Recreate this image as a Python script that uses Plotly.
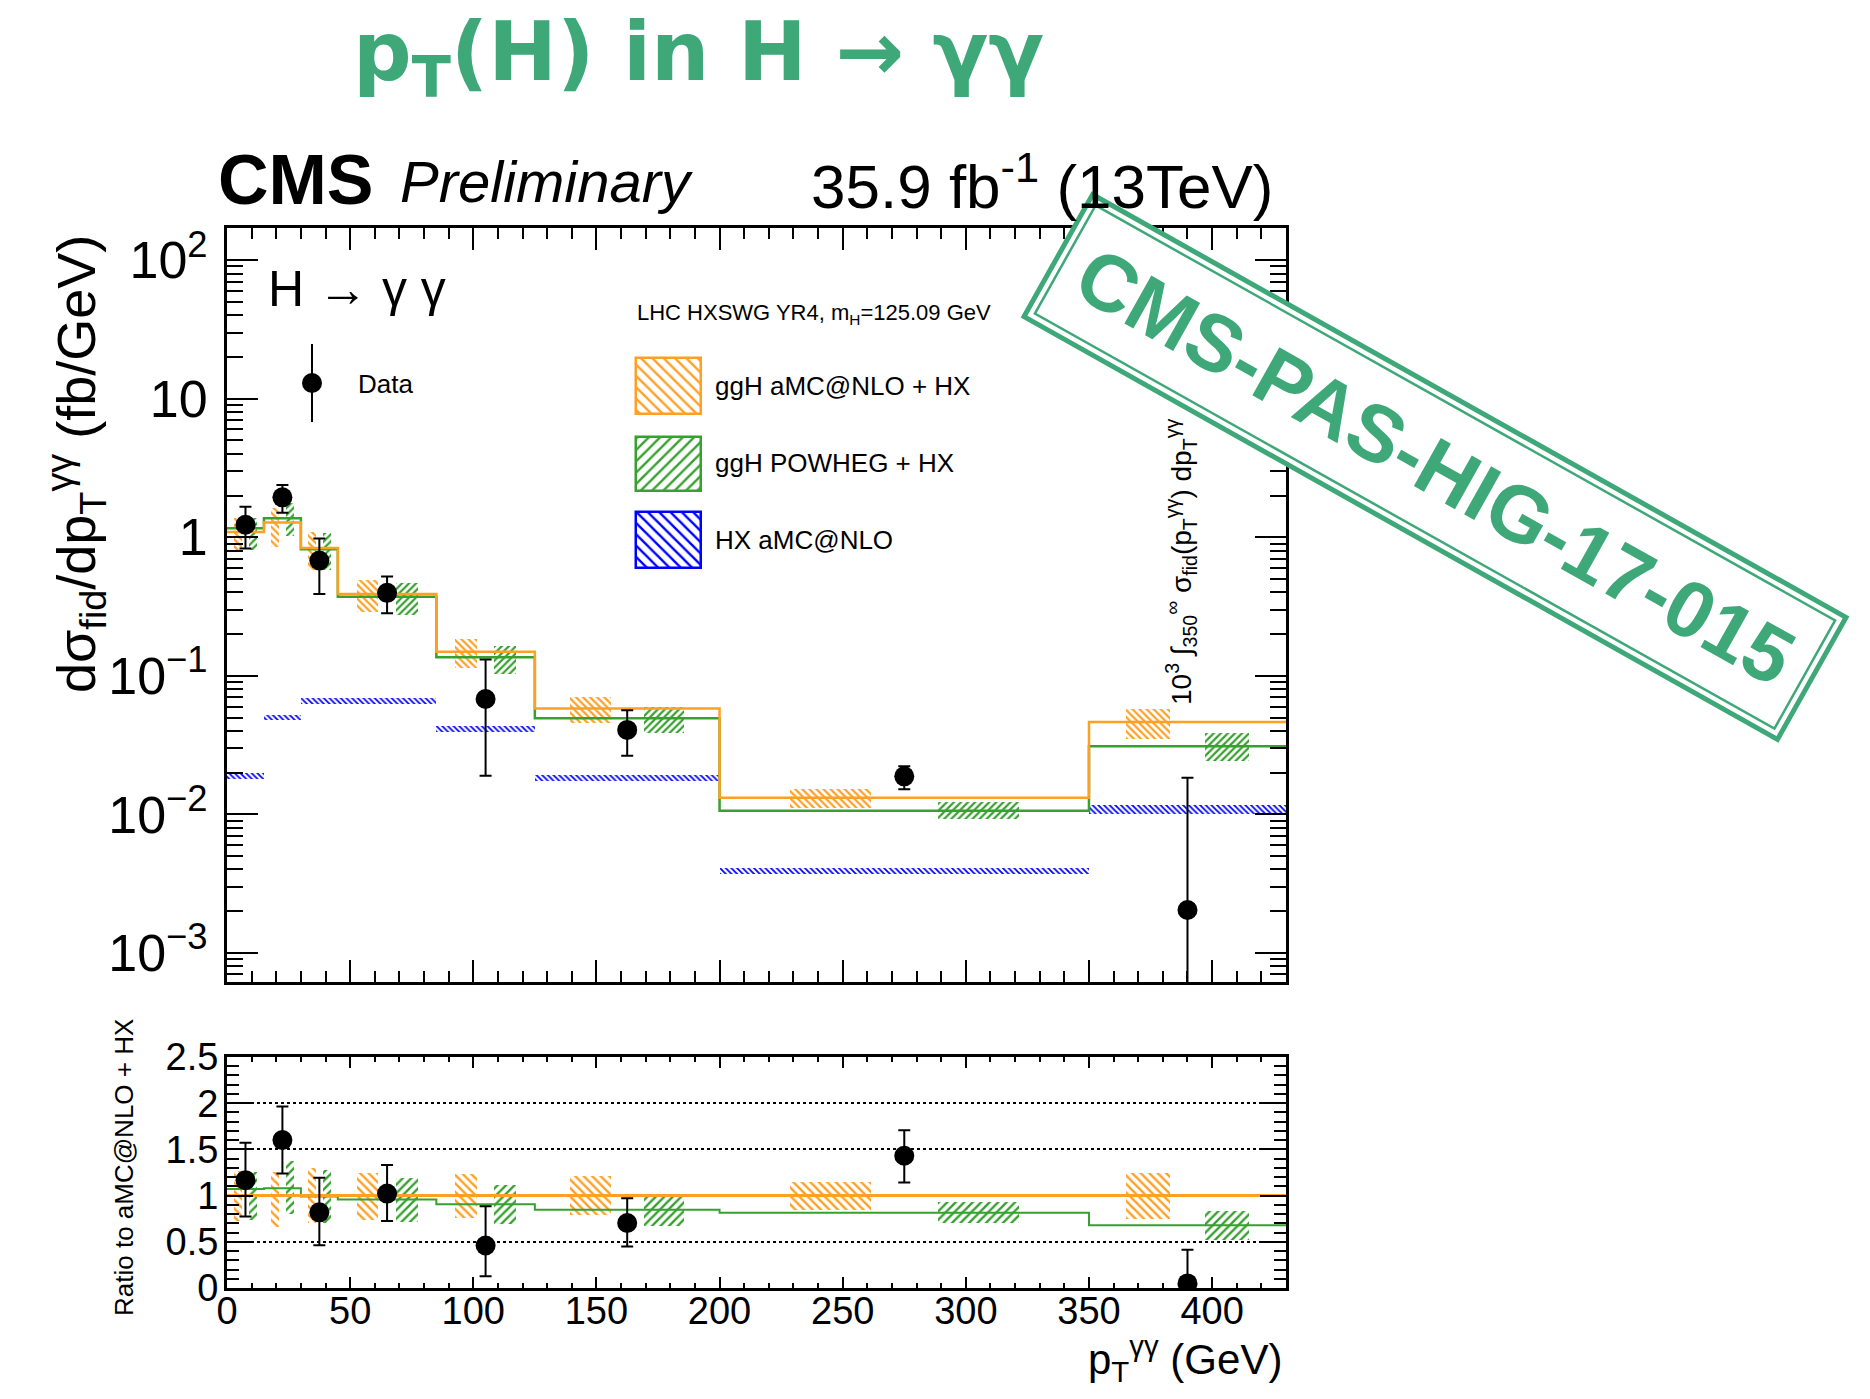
import math
import plotly.graph_objects as go

W, H = 1870, 1399

# ---------------- data ----------------
bin_edges = [0, 15, 30, 45, 85, 125, 200, 350, 430]
bin_centers = [7.5, 22.5, 37.5, 65, 105, 162.5, 275, 390]

data_xs = [1.23, 1.94, 0.68, 0.397, 0.068, 0.0407, 0.0188, 0.00204]
data_up = [1.66, 2.38, 0.98, 0.52, 0.131, 0.0565, 0.0222, 0.0184]
data_dn = [0.83, 1.50, 0.39, 0.283, 0.0190, 0.0265, 0.0152, 0.0001]

amc_xs = [1.09, 1.28, 0.835, 0.39, 0.149, 0.058, 0.01315, 0.0465]
powheg_xs = [1.16, 1.37, 0.82, 0.372, 0.136, 0.0493, 0.0106, 0.031]

hx_xs = [0.0189, 0.050, 0.0653, 0.0653, 0.0413, 0.0183, 0.00393, 0.0108]
hx_lo = [0.0180, 0.0476, 0.0622, 0.0622, 0.0393, 0.0174, 0.00374, 0.0101]
hx_hi = [0.0198, 0.0525, 0.0686, 0.0686, 0.0434, 0.0192, 0.00413, 0.0116]

ratio_data = [1.167, 1.601, 0.819, 1.022, 0.460, 0.703, 1.431, 0.05]
ratio_up = [1.572, 1.964, 1.192, 1.330, 0.884, 0.971, 1.707, 0.413]
ratio_dn = [0.775, 1.239, 0.464, 0.725, 0.127, 0.449, 1.141, 0.0]
ratio_amc = [1.0, 1.0, 1.0, 1.0, 1.0, 1.0, 1.0, 1.0]
ratio_powheg = [1.072, 1.08, 0.99, 0.957, 0.906, 0.848, 0.815, 0.678]

amc_band_lo = [0.72, 0.66, 0.70, 0.74, 0.76, 0.79, 0.84, 0.75]
amc_band_hi = [1.27, 1.26, 1.30, 1.25, 1.23, 1.21, 1.15, 1.24]
pow_band_lo = [0.74, 0.80, 0.70, 0.71, 0.69, 0.67, 0.70, 0.52]
pow_band_hi = [1.26, 1.37, 1.28, 1.19, 1.11, 1.02, 0.93, 0.83]

main_tickvals = [1e-3, 1e-2, 1e-1, 1, 10, 100]
main_ticktext = ["10<sup>\u22123</sup>", "10<sup>\u22122</sup>", "10<sup>\u22121</sup>", "1", "10", "10<sup>2</sup>"]
ratio_tickvals = [0, 0.5, 1, 1.5, 2, 2.5]
ratio_ticktext = ["0", "0.5", "1", "1.5", "2", "2.5"]

# ---------------- style ----------------
ORANGE = "#FFA024"
GREEN = "#36A12E"
BLUE = "#0000FF"
STAMP = "#3EA879"
FONT = "Liberation Sans, Arial, Helvetica, sans-serif"


def fx(p):
    return p / W


def fy(p):
    return 1 - p / H


lo_edges = bin_edges[:-1]
widths = [b - a for a, b in zip(bin_edges[:-1], bin_edges[1:])]
amc_box_x = [a + 0.3 * w for a, w in zip(lo_edges, widths)]
pow_box_x = [a + 0.7 * w for a, w in zip(lo_edges, widths)]
box_w = [0.22 * w for w in widths]


def steps(vals):
    return list(vals) + [vals[-1]]


def hatch(color, shape, size=5, sol=0.4):
    return dict(color=color, line=dict(width=0),
                pattern=dict(shape=shape, fillmode="replace", size=size, solidity=sol))


fig = go.Figure()

# ---------- main panel ----------
fig.add_trace(go.Bar(x=bin_centers, width=widths, base=hx_lo,
                     y=[h - l for h, l in zip(hx_hi, hx_lo)],
                     marker=hatch(BLUE, "\\", 4, 0.45), xaxis="x", yaxis="y", showlegend=False))
fig.add_trace(go.Bar(x=amc_box_x, width=box_w,
                     base=[a * l for a, l in zip(amc_xs, amc_band_lo)],
                     y=[a * (h - l) for a, h, l in zip(amc_xs, amc_band_hi, amc_band_lo)],
                     marker=hatch(ORANGE, "\\", 5, 0.45), xaxis="x", yaxis="y", showlegend=False))
fig.add_trace(go.Bar(x=pow_box_x, width=box_w,
                     base=[a * l for a, l in zip(amc_xs, pow_band_lo)],
                     y=[a * (h - l) for a, h, l in zip(amc_xs, pow_band_hi, pow_band_lo)],
                     marker=hatch(GREEN, "/", 5, 0.45), xaxis="x", yaxis="y", showlegend=False))
fig.add_trace(go.Scatter(x=bin_edges, y=steps(powheg_xs), mode="lines", line_shape="hv",
                         line=dict(color=GREEN, width=2.5), xaxis="x", yaxis="y", showlegend=False))
fig.add_trace(go.Scatter(x=bin_edges, y=steps(amc_xs), mode="lines", line_shape="hv",
                         line=dict(color=ORANGE, width=2.5), xaxis="x", yaxis="y", showlegend=False))
fig.add_trace(go.Scatter(x=bin_centers, y=data_xs, mode="markers",
                         marker=dict(color="black", size=20),
                         error_y=dict(type="data", symmetric=False,
                                      array=[u - v for u, v in zip(data_up, data_xs)],
                                      arrayminus=[v - d for v, d in zip(data_xs, data_dn)],
                                      color="black", thickness=2, width=6),
                         xaxis="x", yaxis="y", showlegend=False))

# ---------- ratio panel ----------
fig.add_trace(go.Bar(x=amc_box_x, width=box_w, base=amc_band_lo,
                     y=[h - l for h, l in zip(amc_band_hi, amc_band_lo)],
                     marker=hatch(ORANGE, "\\", 6, 0.4), xaxis="x2", yaxis="y2", showlegend=False))
fig.add_trace(go.Bar(x=pow_box_x, width=box_w, base=pow_band_lo,
                     y=[h - l for h, l in zip(pow_band_hi, pow_band_lo)],
                     marker=hatch(GREEN, "/", 6, 0.4), xaxis="x2", yaxis="y2", showlegend=False))
fig.add_trace(go.Scatter(x=bin_edges, y=steps(ratio_powheg), mode="lines", line_shape="hv",
                         line=dict(color=GREEN, width=2), xaxis="x2", yaxis="y2", showlegend=False))
fig.add_trace(go.Scatter(x=bin_edges, y=steps(ratio_amc), mode="lines", line_shape="hv",
                         line=dict(color=ORANGE, width=3), xaxis="x2", yaxis="y2", showlegend=False))
fig.add_trace(go.Scatter(x=bin_centers, y=ratio_data, mode="markers",
                         marker=dict(color="black", size=20),
                         error_y=dict(type="data", symmetric=False,
                                      array=[u - v for u, v in zip(ratio_up, ratio_data)],
                                      arrayminus=[v - d for v, d in zip(ratio_data, ratio_dn)],
                                      color="black", thickness=2, width=6),
                         xaxis="x2", yaxis="y2", showlegend=False))

# ---------- legend swatches (pixel overlay axes) ----------
leg_boxes = [(358, 414, ORANGE, "\\"), (437, 491, GREEN, "/"), (512, 568, BLUE, "\\")]
for top, bot, col, shp in leg_boxes:
    fig.add_trace(go.Bar(x=[668.5], width=[65], base=[top], y=[bot - top],
                         marker=dict(color=col, line=dict(color=col, width=2.5),
                                     pattern=dict(shape=shp, fillmode="replace", size=8, solidity=0.3)),
                         xaxis="x3", yaxis="y3", showlegend=False, hoverinfo="skip"))
fig.add_trace(go.Scatter(x=[312], y=[383], mode="markers",
                         marker=dict(color="black", size=20),
                         error_y=dict(type="data", array=[39], color="black", thickness=2, width=0),
                         xaxis="x3", yaxis="y3", showlegend=False, hoverinfo="skip"))

# ---------- axes ----------
xdom = [fx(227), fx(1286)]
axis_common = dict(showline=True, linewidth=3, linecolor="black", mirror="allticks",
                   ticks="inside", tickcolor="black", tickwidth=2, showgrid=False, zeroline=False,
                   automargin=False)

fig.update_layout(
    width=W, height=H,
    margin=dict(l=0, r=0, t=0, b=0),
    paper_bgcolor="white", plot_bgcolor="rgba(0,0,0,0)",
    barmode="overlay", bargap=0,
    font=dict(family=FONT, color="black"),
    xaxis=dict(domain=xdom, range=[0, 430], anchor="y", showticklabels=False,
               tickmode="linear", tick0=0, dtick=50, ticklen=22,
               minor=dict(ticks="inside", ticklen=11, tickwidth=2, tickcolor="black", dtick=10, tick0=0),
               **axis_common),
    yaxis=dict(domain=[fy(982), fy(228)], type="log", range=[-3.21, 2.232], anchor="x",
               tickmode="array", tickvals=main_tickvals, ticktext=main_ticktext, ticklen=31,
               tickfont=dict(size=52), ticklabelstandoff=6,
               minor=dict(ticks="inside", ticklen=16, tickwidth=2, tickcolor="black", tickmode="array",
                          tickvals=[m * 10 ** e for e in range(-4, 3) for m in range(2, 10)]),
               **axis_common),
    xaxis2=dict(domain=xdom, range=[0, 430], anchor="y2",
                tickmode="linear", tick0=0, dtick=50, ticklen=11,
                tickfont=dict(size=38), ticklabelstandoff=-13,
                minor=dict(ticks="inside", ticklen=5, tickwidth=2, tickcolor="black", dtick=10, tick0=0),
                **axis_common),
    yaxis2=dict(domain=[fy(1288), fy(1057)], range=[0, 2.5], anchor="x2",
                tickmode="array", tickvals=ratio_tickvals, ticktext=ratio_ticktext, ticklen=26,
                tickfont=dict(size=38), ticklabelstandoff=-2,
                minor=dict(ticks="inside", ticklen=12, tickwidth=2, tickcolor="black", dtick=0.1, tick0=0),
                **{k: v for k, v in axis_common.items() if k != "showgrid"},
                showgrid=True, gridcolor="black", griddash="dot", gridwidth=1.5),
    xaxis3=dict(domain=[0, 1], range=[0, W], anchor="y3", visible=False, fixedrange=True),
    yaxis3=dict(domain=[0, 1], range=[H, 0], anchor="x3", visible=False, fixedrange=True),
)

# ---------- stamp ----------
theta = math.radians(29.3)
cx, cy = 1435, 467


def rect_path(hl, hh):
    pts = []
    for sx, sy in [(-1, -1), (1, -1), (1, 1), (-1, 1)]:
        x = cx + sx * hl * math.cos(theta) - sy * hh * math.sin(theta)
        y = cy + sx * hl * math.sin(theta) + sy * hh * math.cos(theta)
        pts.append((fx(x), fy(y)))
    return "M " + " L ".join(f"{x:.5f},{y:.5f}" for x, y in pts) + " Z"


fig.add_shape(type="path", path=rect_path(432, 70), xref="paper", yref="paper",
              fillcolor="white", line=dict(color=STAMP, width=5), layer="above")
fig.add_shape(type="path", path=rect_path(424, 62), xref="paper", yref="paper",
              fillcolor="rgba(0,0,0,0)", line=dict(color=STAMP, width=2.5), layer="above")


# ---------- text ----------
def ann(text, x, y, size, xanchor="left", yanchor="middle", angle=0, color="black", family=FONT):
    fig.add_annotation(text=text, x=fx(x), y=fy(y), xref="paper", yref="paper",
                       xanchor=xanchor, yanchor=yanchor, showarrow=False, textangle=angle,
                       font=dict(size=size, color=color, family=family))


TITLE_FONT = "DejaVu Sans, Liberation Sans, Arial, sans-serif"
ann("<b>p<sub>T</sub>(H) in H \u2192 \u03b3\u03b3</b>", 698, 58, 82, xanchor="center", color=STAMP, family=TITLE_FONT)
ann("<b>CMS</b>", 216, 180, 70)
ann("<i>Preliminary</i>", 398, 182, 58)
ann("35.9 fb<sup>-1</sup> (13TeV)", 809, 182, 62)
ann("H \u2192 \u03b3 \u03b3", 266, 289, 50)
ann("Data", 356, 384, 26)
ann("LHC HXSWG YR4, m<sub>H</sub>=125.09 GeV", 635, 314, 22)
ann("ggH aMC@NLO + HX", 713, 386, 26)
ann("ggH POWHEG + HX", 713, 463, 26)
ann("HX aMC@NLO", 713, 540, 26)
ann("10<sup>3</sup> \u222b<sub>350</sub><sup>\u221e</sup> \u03c3<sub>fid</sub>(p<sub>T</sub><sup>\u03b3\u03b3</sup>) dp<sub>T</sub><sup>\u03b3\u03b3</sup>",
    1181, 562, 28, xanchor="center", angle=-90)
ann("d\u03c3<sub>fid</sub>/dp<sub>T</sub><sup>\u03b3\u03b3</sup> (fb/GeV)", 76, 464, 54, xanchor="center", angle=-90)
ann("Ratio to aMC@NLO + HX", 124, 1168, 26, xanchor="center", angle=-90)
ann("p<sub>T</sub><sup>\u03b3\u03b3</sup> (GeV)", 1284, 1358, 42, xanchor="right")
ann("<b>CMS-PAS-HIG-17-015</b>", cx, cy, 80, xanchor="center", angle=29.3, color=STAMP)

fig.write_html("out.html")
